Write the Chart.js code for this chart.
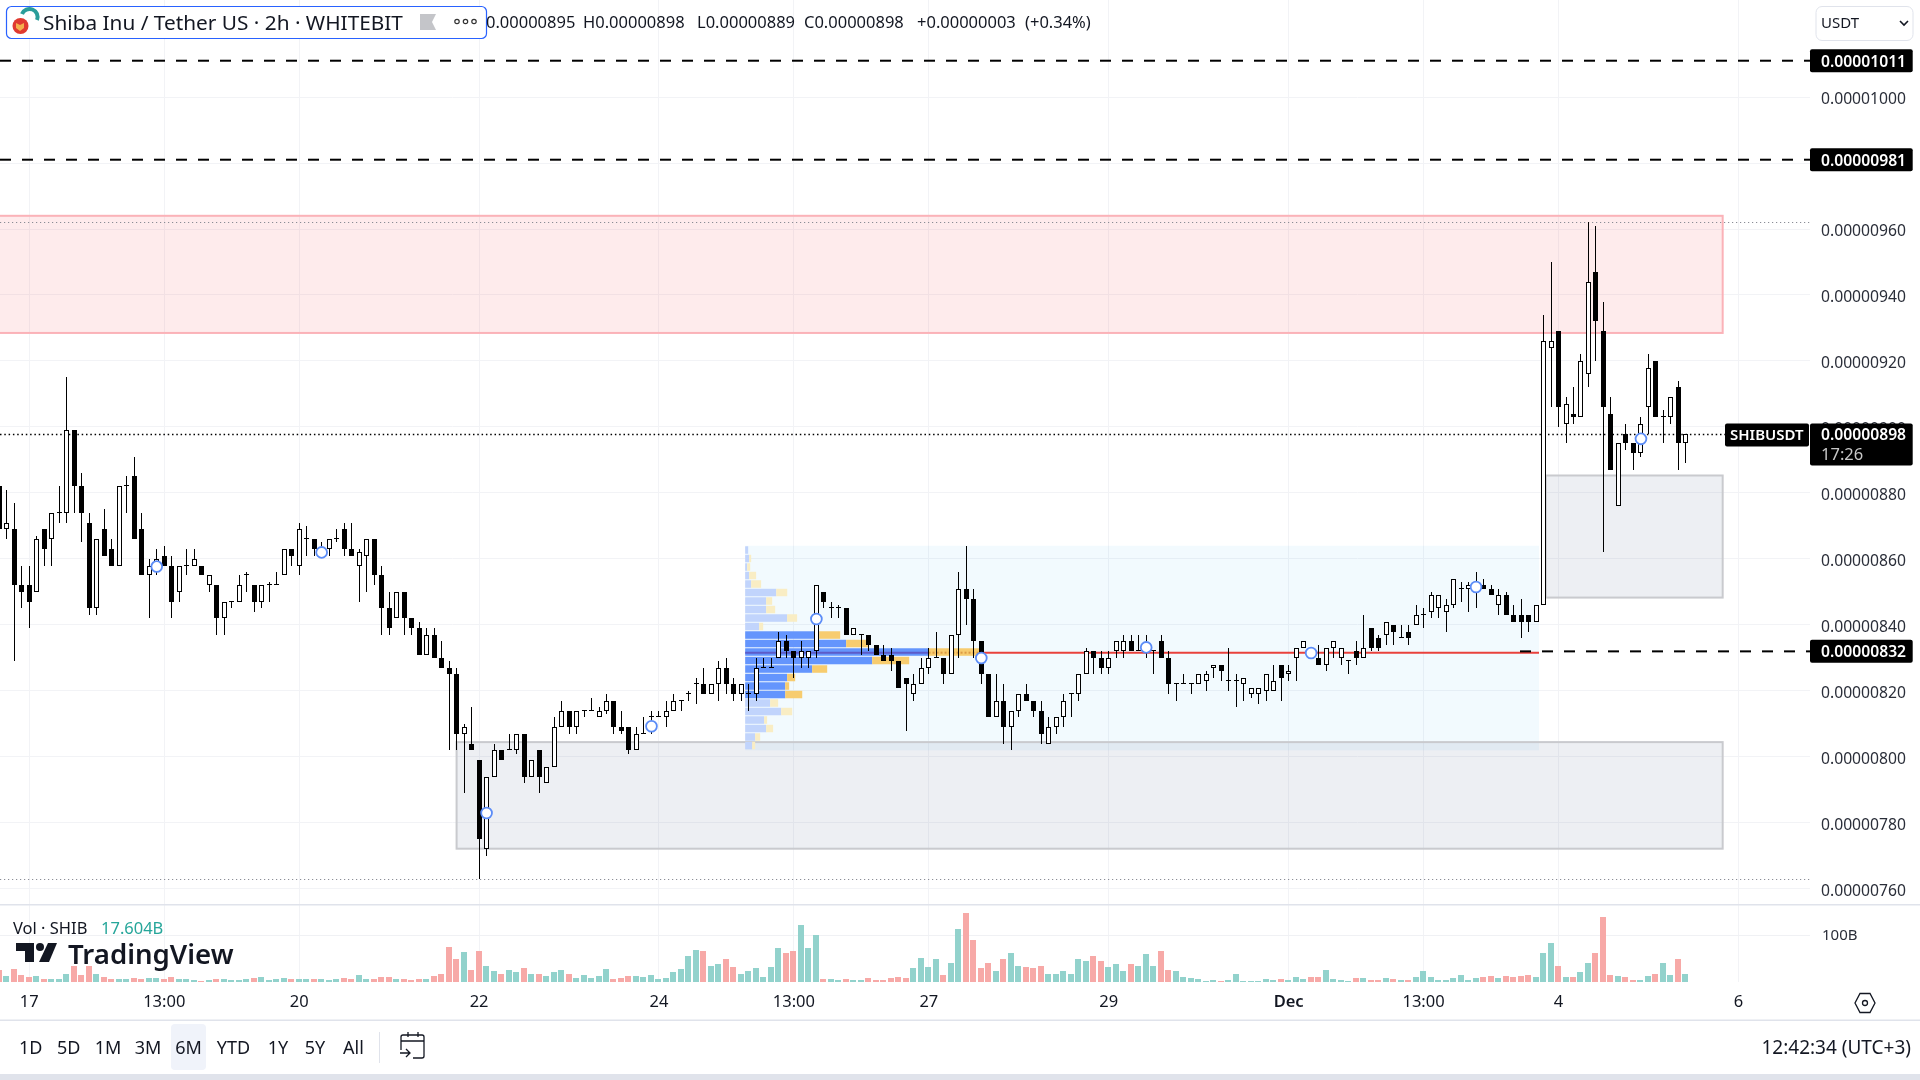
<!DOCTYPE html>
<html><head><meta charset="utf-8"><title>SHIBUSDT</title>
<script src="https://cdn.jsdelivr.net/npm/chart.js@4"></script>
<style>
html,body{margin:0;padding:0;background:#fff;width:1920px;height:1080px;overflow:hidden}
#wrap{position:relative;width:1920px;height:1080px;font-family:"Noto Sans",sans-serif;color:#131722}
canvas{position:absolute;left:0;top:0}
.t{position:absolute;white-space:nowrap;line-height:20px;font-size:16.5px}
.b{font-size:18px}
.c{transform:translateX(-50%)}
svg{position:absolute;left:0;top:0}
</style></head><body>
<div id="wrap">
<canvas id="c" width="1920" height="1080"></canvas>
<svg width="1920" height="1080" viewBox="0 0 1920 1080">
 <rect x="6.5" y="6.5" width="480" height="32" rx="5" fill="#fff" stroke="#2962ff" stroke-width="1.2"/>
 <path d="M22 14a8 8 0 0 1 15 6" fill="none" stroke="#2a9d9a" stroke-width="4"/>
 <circle cx="20.5" cy="26" r="8" fill="#e03a30"/><path d="M16 23l4 2 4-2v5l-4 3-4-3z" fill="#f5b04c"/>
 <path d="M420 14h16l-4 8 4 8h-16z" fill="#c4c5c9"/>
 <g fill="none" stroke="#333" stroke-width="1.2"><circle cx="457" cy="21.5" r="2.2"/><circle cx="465.5" cy="21.5" r="2.2"/><circle cx="474" cy="21.5" r="2.2"/></g>
 <rect x="1816" y="6.5" width="97" height="34" rx="6" fill="#fff" stroke="#e0e3eb"/>
 <path d="M1900 21l4 4 4-4" fill="none" stroke="#131722" stroke-width="1.6"/>
 <g fill="#131722"><path d="M16 943h18v19h-9v-11h-9z"/><circle cx="40" cy="947" r="4"/><path d="M48 943h9l-8 19h-10z"/></g>
 <rect x="171" y="1024" width="35" height="46" rx="4" fill="#f0f3fa"/>
 <rect x="379" y="1032" width="1" height="31" fill="#e0e3eb"/>
 <g fill="none" stroke="#131722" stroke-width="1.3"><path d="M401 1050v-13a2 2 0 0 1 2-2h19a2 2 0 0 1 2 2v19a2 2 0 0 1-2 2h-9M401 1041h23M408 1032v5M418 1032v5M400 1053h10M406 1049l4 4-4 4"/></g>
 <path d="M1860 993.5h10l5 9.5-5 9.5h-10l-5-9.5z" fill="none" stroke="#131722" stroke-width="1.3"/>
 <circle cx="1865" cy="1003" r="2.5" fill="none" stroke="#131722" stroke-width="1.3"/>
</svg>
<div class="t" style="left:43px;top:12px;font-size:20.8px;line-height:20px" id="ttl">Shiba Inu / Tether US · 2h · WHITEBIT</div>
<div class="t" style="left:486px;top:12px">0.00000895</div>
<div class="t" style="left:583px;top:12px">H0.00000898</div>
<div class="t" style="left:697px;top:12px">L0.00000889</div>
<div class="t" style="left:804px;top:12px">C0.00000898</div>
<div class="t" style="left:917px;top:12px">+0.00000003</div>
<div class="t" style="left:1025px;top:12px">(+0.34%)</div>
<div class="t" style="left:1821px;top:12px;font-size:15px">USDT</div>
<div class="t" style="left:13px;top:918px">Vol · SHIB</div>
<div class="t" style="left:101px;top:918px;color:#26a69a">17.604B</div>
<div class="t" style="left:68px;top:938px;font-size:27.6px;line-height:30px;font-weight:600">TradingView</div>
<div class="t b c" style="left:30.6px;top:1037px">1D</div>
<div class="t b c" style="left:68.6px;top:1037px">5D</div>
<div class="t b c" style="left:108px;top:1037px">1M</div>
<div class="t b c" style="left:148px;top:1037px">3M</div>
<div class="t b c" style="left:188.6px;top:1037px">6M</div>
<div class="t b c" style="left:233.5px;top:1037px">YTD</div>
<div class="t b c" style="left:278px;top:1037px">1Y</div>
<div class="t b c" style="left:315px;top:1037px">5Y</div>
<div class="t b c" style="left:353.5px;top:1037px">All</div>
<div class="t" style="right:9px;top:1037px;font-size:19px">12:42:34 (UTC+3)</div>
</div>
<script>
// Prices are in units of 0.00000001 USDT; one entry per 2h candle.
const open=[882,869,869,852,852,850,869,866,874,874,
899,882,871,845,869,863,858,882,885,869,
855,858,861,858,850,858,858,858,852,852,
842,847,847,855,852,847,852,852,855,863,
858,866,866,862,863,866,869,863,858,861,
866,855,845,842,850,842,839,831,837,830,
827,825,807,804,799,772,794,802,802,802,
807,794,802,792,797,809,814,809,814,814,
812,814,817,809,809,802,807,812,812,812,
814,817,819,822,822,819,822,827,822,819,
819,819,827,827,830,835,832,830,830,832,
850,845,845,845,837,837,837,834,831,831,
829,824,819,822,827,830,830,825,837,851,
848,835,825,812,817,809,814,819,817,814,
804,809,812,819,819,825,832,830,827,832,
832,835,832,833,832,835,830,822,822,822,
822,823,827,828,823,823,822,819,819,820,
820,828,825,830,833,832,830,828,833,830,
829,832,830,839,836,837,840,836,838,840,
843,844,845,844,846,851,851,851,852,851,
846,849,843,843,843,841,846,924,929,901,
904,903,916,947,929,904,876,898,895,892,
906,920,903,903,912,895];
const high=[888,881,877,858,858,867,869,874,882,915,
899,886,874,866,875,866,882,885,891,874,
860,863,864,861,858,863,863,858,855,852,
847,847,855,856,852,852,853,856,863,863,
871,870,866,865,866,869,871,871,863,866,
866,858,850,850,850,842,841,839,839,835,
829,827,810,815,799,794,804,802,807,807,
807,799,802,797,812,817,814,814,814,818,
815,819,817,814,809,809,812,814,814,817,
819,817,820,824,827,822,829,830,824,822,
822,830,830,830,838,837,832,835,832,852,
850,847,846,845,839,837,837,834,834,833,
829,824,825,830,833,838,830,837,856,864,
851,835,825,825,822,814,819,822,817,817,
812,812,819,819,825,833,832,832,832,835,
837,837,837,837,832,837,832,822,825,822,
825,826,828,828,833,825,824,821,821,825,
828,828,828,833,835,833,834,833,835,833,
829,835,843,839,837,841,840,840,840,846,
845,850,849,848,854,853,853,856,854,852,
851,850,846,848,843,846,934,950,929,909,
912,922,962,961,938,909,895,901,895,903,
922,920,905,909,914,898];
const low=[858,866,829,845,839,850,858,858,871,871,
874,865,843,843,861,858,858,874,866,855,
842,855,858,842,847,855,858,855,850,837,
837,845,847,850,844,845,847,852,855,858,
855,861,861,861,861,865,861,861,847,850,
852,837,837,842,837,837,831,831,830,827,
802,802,789,802,763,770,794,799,802,801,
792,794,789,792,797,809,807,807,812,814,
812,813,807,807,801,802,807,807,812,809,
814,814,817,816,819,819,817,819,817,817,
814,817,827,827,830,830,824,827,827,830,
845,842,842,837,837,831,832,831,829,826,
821,808,817,822,825,830,822,825,830,840,
830,822,812,812,804,802,812,817,812,804,
804,807,809,812,817,825,825,825,825,830,
830,832,832,830,825,830,819,817,822,819,
822,820,824,823,820,815,817,818,816,817,
820,817,823,823,833,830,828,826,830,828,
825,828,830,832,832,834,834,836,834,840,
839,842,842,838,845,847,844,845,851,849,
843,843,841,836,838,841,846,906,900,895,
901,903,912,920,862,887,876,893,887,891,
898,903,895,901,887,889];
const close=[869,871,852,850,847,866,863,874,874,899,
882,874,845,866,861,858,882,882,866,855,
858,860,858,847,858,858,860,855,855,842,
847,847,852,855,847,852,852,852,863,861,
869,866,863,863,866,866,863,861,862,866,
855,845,839,850,842,839,831,837,830,827,
825,807,809,802,775,794,802,799,802,807,
794,799,794,797,809,814,809,814,814,814,
814,817,809,808,802,807,807,812,812,814,
817,817,819,822,819,822,827,822,819,822,
819,827,827,827,835,832,830,832,832,852,
847,845,845,837,839,837,834,831,829,829,
821,822,822,827,830,830,825,837,851,848,
835,825,812,817,809,814,819,817,814,807,
809,812,817,819,825,832,830,827,830,835,
835,832,832,834,832,830,822,822,822,822,
825,825,828,826,823,823,824,821,821,825,
823,824,826,833,835,831,828,833,835,833,
829,830,833,833,833,841,838,836,836,843,
843,849,849,846,854,851,852,853,851,849,
849,843,841,841,841,846,926,926,906,907,
903,920,944,932,906,887,895,895,892,901,
918,903,903,909,895,898];
// Volume in billions of SHIB
const volume=[25,12,27,14,10,12,5.7,5.7,5.7,18,
35,14,33,18,10,5.7,5.7,5.7,7.8,5.7,
7.8,7.8,5.7,10,5.7,5.7,3.5,1.4,3.5,5.7,
5.7,3.5,3.5,5.7,7.8,10,3.5,5.7,7.8,5.7,
5.7,5.7,5.7,5.7,3.5,5.7,7.8,5.7,14,5.7,
5.7,10,10,5.7,5.7,3.5,5.7,5.7,12,16,
74,50,63,25,65,33,23,18,25,21,
29,16,18,12,21,25,18,7.8,14,7.8,
12,27,5.7,7.8,12,12,
10,14,5.7,7.8,21,27,55,69,65,33,
38,50,31,16,23,29,10,31,72,61,
67,121,72,99,5.7,5.7,3.5,5.7,3.5,3.5,
7.8,3.5,3.5,7.8,10,7.8,29,52,31,50,
14,40,112,146,89,29,40,23,50,61,
33,31,29,35,18,16,23,16,48,44,
55,44,31,38,23,38,35,59,35,65,
25,23,10,7.8,5.7,1.4,3.5,1.4,3.5,18,
1.4,1.4,1.4,5.7,3.5,
5.7,3.5,10,5.7,10,10,25,5.7,3.5,
1.4,7.8,7.8,3.5,3.5,7.8,5.7,3.5,3.5,10,
23,10,3.5,3.5,7.8,14,3.5,7.8,10,12,
7.8,12,10,12,14,10,61,82,33,10,
10,21,40,61,138,14,12,10,3.5,3.5,
12,18,40,14,48,17.604];
const tickIndex=[4,22,40,64,88,106,124,148,172,190,208,232];
const tickLabels=['17','13:00','20','22','24','13:00','27','29','Dec','13:00','4','6'];
const priceTicks=[760,780,800,820,840,860,880,900,920,940,960,980,1000];
const levelPrices=[1011,981];
const supportPrice=832;
const lastPrice=898;
const highPrice=962, lowPrice=763;
const markerIndex=[21,43,65,87,109,131,153,175,197,219];
const markerPrice=[857.7,862,783,809.3,841.8,830,833.2,831.5,851.5,896.4];
const zoneRed=[0,229.9,964,928.5];
const zoneGrayHigh=[206.3,229.9,885.3,848.3];
const zoneGrayLow=[61,229.9,804.5,772.2];
const zoneBlue=[99.5,205.4,864,802];
// Fixed-range volume profile, rows from the top down
const profileTop=864, profileStep=2.576, profileStart=99.5, pocPrice=831.6;
const profileUp=[.4,.53,.27,.53,.8,4.14,2.8,2.8,5.6,1.87,9.87,13.47,24.46,16.94,8.94,5.6,5.34,5.34,3.33,4.8,2.53,2.8,1.33,.93];
const profileDown=[0,.27,.4,.93,1.33,1.47,.8,1.2,1.33,.53,2.8,3.07,6.8,4.94,2,1.07,.53,2.27,1.07,1.47,.4,.93,.67,.4];
const valueRows=[10,17];

const idx=open.map((_,i)=>i);
const wicks=idx.map(i=>({x:i,y:[low[i],high[i]]}));
const bodies=idx.map(i=>({x:i,y:[Math.min(open[i],close[i]),Math.max(open[i],close[i])]}));
const bodyFill=idx.map(i=>close[i]>=open[i]?'#ffffff':'#000000');
const vols=idx.map(i=>({x:i,y:volume[i]}));
const volFill=idx.map(i=>close[i]>=open[i]?'#92d2cc':'#f7a9a7');
const markers=markerIndex.map((x,i)=>({x,y:markerPrice[i]}));
const fmt=v=>(v/1e8).toFixed(8);
function noPad(s){
  s.paddingTop=s.paddingBottom=s.paddingLeft=s.paddingRight=0;
  if(s._margins){s._margins.left=s._margins.right=s._margins.top=s._margins.bottom=0;}
}

// Snap the bars the scales have placed onto whole device pixels
const snap={id:'snap',afterDatasetsUpdate(c){
  c.data.datasets.forEach((ds,i)=>{
    if(ds.type!=='bar')return;
    c.getDatasetMeta(i).data.forEach(el=>{
      el.x=Math.round(el.x-.5)+(ds.barThickness%2?.5:0);
      const t=Math.round(Math.min(el.y,el.base)),b=Math.round(Math.max(el.y,el.base));
      el.y=t;el.base=Math.max(b,t+1);el.height=el.base-el.y;
    });
  });
}};

const underlay={id:'underlay',beforeDatasetsDraw(c){
  const g=c.ctx,X=v=>c.scales.x.getPixelForValue(v),Y=v=>c.scales.y.getPixelForValue(v),a=c.chartArea;
  g.save();
  const V=c.scales.yVol;
  g.fillStyle='#f0f1f4';g.fillRect(0,Math.round(V.getPixelForValue(100)),a.right,1);
  g.fillStyle='#e0e3eb';g.fillRect(0,904,1920,1.5);g.fillRect(0,1019.5,1920,1.5);g.fillRect(0,1074,1920,6);
  const rect=(z,f,s)=>{const x0=z[0]===0?-5:X(z[0]),x1=X(z[1]),y0=Y(z[2]),y1=Y(z[3]);
    g.fillStyle=f;g.fillRect(x0,y0,x1-x0,y1-y0);
    if(s){g.strokeStyle=s;g.lineWidth=2;g.strokeRect(x0,y0,x1-x0,y1-y0);}};
  rect(zoneBlue,'rgba(33,170,230,0.06)');
  rect(zoneRed,'rgba(242,54,69,0.10)','#fbb2b8');
  rect(zoneGrayHigh,'rgba(110,120,160,0.12)','#c9cace');
  rect(zoneGrayLow,'rgba(110,120,160,0.12)','#c9cace');
  profileUp.forEach((u,r)=>{
    const t=Y(profileTop-r*profileStep)+0.5,b=Y(profileTop-(r+1)*profileStep)-0.5;
    const inV=r>=valueRows[0]&&r<=valueRows[1];
    const x0=X(profileStart),x1=X(profileStart+u),x2=X(profileStart+u+profileDown[r]);
    g.fillStyle=inV?'#6495fd':'#c1d4fc';g.fillRect(x0,t,x1-x0,b-t);
    g.fillStyle=inV?'#f7cc6f':'#f9edc4';g.fillRect(x1,t,x2-x1,b-t);
  });
  // point of control and its red extension
  const py=Y(pocPrice),r=12,xb=X(profileStart+profileUp[r]),xo=X(profileStart+profileUp[r]+profileDown[r]);
  g.lineWidth=2;
  g.strokeStyle='#5d5bc8';g.beginPath();g.moveTo(X(profileStart),py);g.lineTo(xb,py);g.stroke();
  g.strokeStyle='#dc9a45';g.setLineDash([2,2]);g.beginPath();g.moveTo(xb,py);g.lineTo(xo,py);g.stroke();g.setLineDash([]);
  g.strokeStyle='#e9413c';g.beginPath();g.moveTo(xo,py);g.lineTo(X(zoneBlue[1]),py);g.stroke();
  // dotted price lines
  g.lineWidth=1.2;g.strokeStyle='#8a8d96';g.setLineDash([1.2,2.8]);
  [highPrice,lowPrice].forEach(p=>{const y=Math.round(Y(p))+.5;g.beginPath();g.moveTo(0,y);g.lineTo(a.right,y);g.stroke();});
  g.strokeStyle='#000';g.lineWidth=1.3;g.setLineDash([1.5,2.8]);
  const ly=Math.round(Y(lastPrice))+.5;g.beginPath();g.moveTo(0,ly);g.lineTo(1725,ly);g.stroke();
  // dashed horizontal levels
  g.lineWidth=2;g.strokeStyle='#000';g.setLineDash([11,11]);
  levelPrices.forEach(p=>{const y=Y(p);g.beginPath();g.moveTo(0,y);g.lineTo(a.right,y);g.stroke();});
  const sy=Y(supportPrice);g.beginPath();g.moveTo(1520,sy);g.lineTo(a.right,sy);g.stroke();
  g.restore();
}};
const overlay={id:'overlay',afterDraw(c){
  const g=c.ctx,Y=v=>c.scales.y.getPixelForValue(v),a=c.chartArea;
  g.save();
  const box=(x,y,w,h)=>{g.fillStyle='#000';g.beginPath();g.roundRect(x,y,w,h,2);g.fill();};
  g.textBaseline='middle';g.textAlign='left';
  g.font='600 15.7px "Noto Sans"';
  [levelPrices[0],levelPrices[1],supportPrice].forEach(p=>{const y=Y(p);
    box(a.right,y-11.5,102.7,23);g.fillStyle='#fff';g.fillText(fmt(p),1821,y+1.5);});
  const ly=Y(lastPrice);
  box(a.right,ly-10,102.7,42);g.fillStyle='#fff';g.fillText(fmt(lastPrice),1821,ly+2);
  g.font='16.5px "Noto Sans"';g.fillStyle='#c8c8c8';g.fillText('17:26',1821,ly+21.5);
  g.font='600 15px "Noto Sans"';
  box(1725,ly-10,84,23);g.fillStyle='#fff';g.fillText('SHIBUSDT',1730,ly+2);
  g.font='15px "Noto Sans"';g.fillStyle='#2a2e39';
  g.fillText('100B',1822,c.scales.yVol.getPixelForValue(100)+1.2);
  g.restore();
}};

new Chart(document.getElementById('c'),{
  type:'bar',
  data:{datasets:[
    {type:'bar',label:'Volume',data:vols,yAxisID:'yVol',xAxisID:'x',backgroundColor:volFill,barThickness:6,grouped:false,order:5,inflateAmount:0},
    {type:'bar',label:'Wicks',data:wicks,yAxisID:'y',xAxisID:'x',backgroundColor:'#000',barThickness:1,grouped:false,order:4,inflateAmount:0},
    {type:'bar',label:'Bodies',data:bodies,yAxisID:'y',xAxisID:'x',backgroundColor:bodyFill,borderColor:'#000',borderWidth:1,borderSkipped:false,barThickness:5,minBarLength:1,grouped:false,order:3,inflateAmount:0},
    {type:'scatter',label:'Markers',data:markers,yAxisID:'y',xAxisID:'x',pointStyle:'circle',pointRadius:5.4,pointBackgroundColor:'#fff',pointBorderColor:'#5b8cf7',pointBorderWidth:1.8,order:1}
  ]},
  options:{
    responsive:false,animation:false,devicePixelRatio:1,
    layout:{padding:0,autoPadding:false},
    plugins:{legend:{display:false},tooltip:{enabled:false}},
    events:[],
    scales:{
      x:{type:'linear',position:'bottom',min:0.0912,max:241.55,offset:false,
        grid:{color:'#f2f3f6',lineWidth:1,drawTicks:false,offset:false},border:{display:false},
        afterBuildTicks(s){s.ticks=tickIndex.map(v=>({value:v}));},
        afterFit(s){s.height=98;noPad(s);},
        ticks:{autoSkip:false,maxRotation:0,minRotation:0,padding:10,color:'#131722',
          font:ctx=>({family:'"Noto Sans"',size:16.5,weight:ctx.tick&&tickLabels[tickIndex.indexOf(ctx.tick.value)]==='Dec'?'600':'400'}),
          callback:v=>tickLabels[tickIndex.indexOf(v)]}},
      y:{type:'linear',position:'right',min:731.8,max:1029.4,
        grid:{color:'#f2f3f6',lineWidth:1,drawTicks:false},border:{display:false},
        afterBuildTicks(s){s.ticks=priceTicks.map(v=>({value:v}));},
        afterFit(s){s.width=110;noPad(s);},
        ticks:{autoSkip:false,padding:11,crossAlign:'near',color:'#2a2e39',font:{family:'"Noto Sans"',size:15.7,lineHeight:0.32},callback:v=>['',fmt(v)]}},
      yVol:{type:'linear',position:'right',display:false,min:0,max:2089.4}
    }
  },
  plugins:[snap,underlay,overlay]
});
</script>
</body></html>
